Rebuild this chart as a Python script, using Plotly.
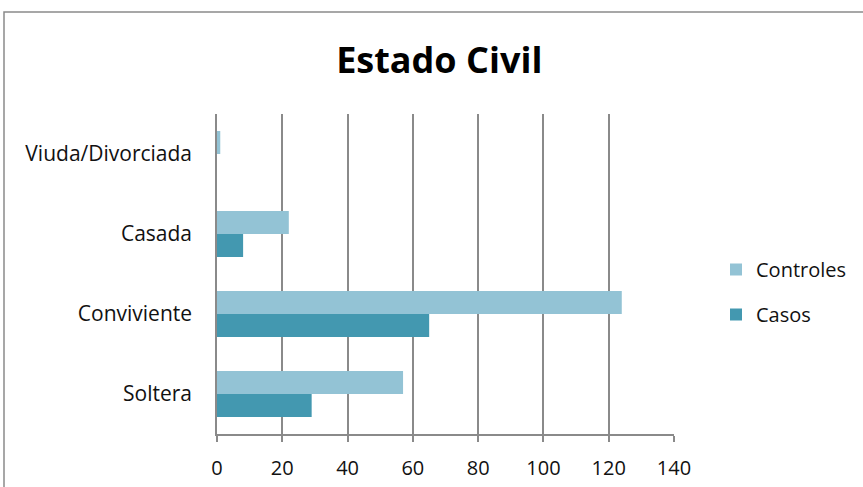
import plotly.graph_objects as go

categories = ["Soltera", "Conviviente", "Casada", "Viuda/Divorciada"]
casos = [29, 65, 8, 0]
controles = [57, 124, 22, 1]
x_ticks = [0, 20, 40, 60, 80, 100, 120, 140]

FONT = "'Open Sans', Lato, sans-serif"
GRID = "#8a8a8a"

fig = go.Figure()
fig.add_trace(go.Bar(y=categories, x=casos, name="Casos", orientation="h",
                     legendgroup="casos", legendrank=2,
                     marker=dict(color="#4398B0", line=dict(width=0))))
fig.add_trace(go.Bar(y=categories, x=controles, name="Controles", orientation="h",
                     legendgroup="controles", legendrank=1,
                     marker=dict(color="#93C3D5", line=dict(width=0))))

L, R, T, B = 217, 189, 114, 53
W, H = 863, 487
pw = W - L - R
ph = H - T - B

fig.update_layout(
    width=W, height=H,
    margin=dict(l=L, r=R, t=T, b=B, pad=0, autoexpand=False),
    paper_bgcolor="white", plot_bgcolor="white",
    barmode="group", bargap=0.425, bargroupgap=0,
    font=dict(family=FONT, size=20, color="#111"),
    title=dict(text="<b>Estado Civil</b>", x=0.509, xanchor="center",
               y=1 - 60 / H, yanchor="middle", xref="container", yref="container",
               font=dict(family=FONT, size=36, color="black")),
    legend=dict(traceorder="grouped", x=(716 - L) / pw, xanchor="left",
                y=(H - B - 292) / ph, yanchor="middle",
                font=dict(family=FONT, size=20), tracegroupgap=16,
                bgcolor="rgba(0,0,0,0)"),
    xaxis=dict(range=[0, 140], tickvals=x_ticks, ticktext=[str(v) for v in x_ticks],
               showgrid=True, gridcolor=GRID, gridwidth=1.5,
               showline=True, linecolor=GRID, linewidth=1.5,
               ticks="outside", ticklen=6, tickcolor=GRID, tickwidth=1.5,
               ticklabelstandoff=9, zeroline=False, fixedrange=True,
               tickfont=dict(size=20)),
    yaxis=dict(showgrid=False, showline=True, linecolor=GRID, linewidth=1.5,
               ticks="", ticklabelstandoff=19, zeroline=False, fixedrange=True,
               categoryorder="array", categoryarray=categories,
               tickfont=dict(size=21)),
    showlegend=True,
)

fig.add_shape(type="rect", xref="paper", yref="paper",
              x0=(4 - L) / pw, x1=(W + 20 - L) / pw,
              y0=-(B + 20) / ph, y1=(H - B - 12) / ph,
              line=dict(color="#8a8a8a", width=1.5), fillcolor="rgba(0,0,0,0)",
              layer="below")

fig.write_html("out.html", config={"displayModeBar": False},
               post_script="document.body.style.margin='0';")
